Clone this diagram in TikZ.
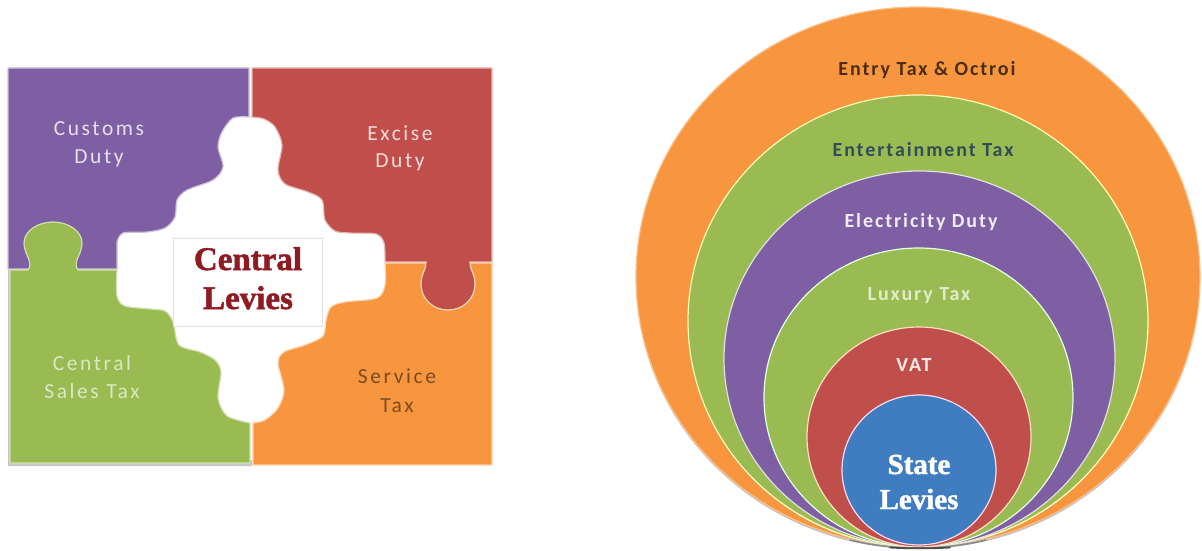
\documentclass[tikz,border=0pt]{standalone}
\usepackage{fontspec}
\setmainfont{Carlito}
\newfontfamily\lblfont[LetterSpace=12]{Carlito}
\newfontfamily\ringfont[LetterSpace=9.6]{Carlito Bold}
\newfontfamily\headfont[FakeBold=1.5]{Liberation Serif Bold}
\definecolor{cpurple}{HTML}{7F5FA3}
\definecolor{cred}{HTML}{C04F4B}
\definecolor{corange}{HTML}{F8963F}
\definecolor{cgreen}{HTML}{9ABB52}
\definecolor{cblue}{HTML}{3F7DC0}
\definecolor{chead}{HTML}{8E1B22}
\tikzset{
  piece/.style={line width=1.2pt,line join=round},
  ring/.style={line width=1.2pt},
  lbl/.style={anchor=base,inner sep=0pt,font=\fontsize{21.5}{21.5}\selectfont\lblfont},
  ringlbl/.style={anchor=base,inner sep=0pt,font=\fontsize{20}{20}\selectfont\ringfont},
  headlbl/.style={anchor=base,inner sep=0pt,font=\fontsize{33}{33}\selectfont\headfont},
}
\begin{document}
\begin{tikzpicture}[x=1pt,y=-1pt]
\useasboundingbox (0,0) rectangle (1202,551);
\fill[white] (0,0) rectangle (1202,551);
% purple piece
\draw[piece,fill=cpurple,draw=cpurple!40!white]
  (8,68) -- (249,68) -- (249,117)
  -- plot[smooth,tension=.5] coordinates {(249,117) (233,118) (222,132) (218,147) (223,167) (213,180) (187,190) (177,200) (175,217) (165,228) (147,232) (123,233) (117,242)}
  -- (117,269) -- (8,269) -- cycle;
% red piece
\draw[piece,fill=cred,draw=cred!40!white]
  (252,68) -- (492,68) -- (492,262) -- (385,262)
  -- plot[smooth,tension=.5] coordinates {(385,262) (384,243) (376,234) (350,233) (335,231) (325,220) (322,200) (308,192) (285,184) (278,170) (282,145) (275,127) (264,119) (251,117)}
  -- (252,117) -- cycle;
% orange piece
\draw[piece,fill=corange,draw=corange!40!white]
  (253,465) -- (492,465) -- (492,263) -- (385,263)
  -- plot[smooth,tension=.5] coordinates {(385,263) (385,285) (377,298) (345,302) (331,307) (326,320) (323,336) (305,345) (284,352) (278,363) (284,390) (278,408) (265,420) (253,423)}
  -- cycle;
% red tab sits over the orange piece
\draw[piece,fill=cred,draw=corange!35!white]
  (426,262) .. controls (426,270) and (421,274) .. (421,284)
  .. controls (421,299) and (433,310) .. (448,310)
  .. controls (463,310) and (475,299) .. (475,284)
  .. controls (475,274) and (470,270) .. (470,262);
\fill[cred] (427,258) rectangle (469,264);
% soft edge under the green piece
\fill[black!22] (8,270) -- (8,466) -- (252,466) -- (252,460) -- (12,460) -- (12,270) -- cycle;
% green piece
\draw[piece,fill=cgreen,draw=cgreen!45!white]
  (10,270) -- (28,270)
  .. controls (34,262) and (24,255) .. (24,243)
  .. controls (24,231) and (38,222) .. (53,222)
  .. controls (68,222) and (82,231) .. (82,243)
  .. controls (82,255) and (72,262) .. (78,270)
  -- (117,270)
  -- plot[smooth,tension=.5] coordinates {(117,270) (117,296) (125,306) (150,309) (165,311) (173,322) (179,345) (200,352) (215,360) (221,372) (218,398) (227,416) (250,423)}
  -- (250,463) -- (10,463) -- cycle;
\fill[cgreen] (30,267) rectangle (76,272);
% centre box
\node[draw=black!12,fill=white,line width=.8pt,minimum width=149pt,minimum height=88pt,inner sep=0pt] (box) at (247.5,282) {};
\node[headlbl,text=chead] (c1) at (248,270) {Central};
\node[headlbl,text=chead] (c2) at (248,309) {Levies};
\node[lbl,text=cpurple!20!white] (customs) at (99,135) {Customs};
\node[lbl,text=cpurple!20!white] (customs2) at (99,163) {Duty};
\node[lbl,text=cred!20!white] (excise) at (400,140) {Excise};
\node[lbl,text=cred!20!white] (excise2) at (400,167) {Duty};
\node[lbl,text=cgreen!35!white] (sales) at (92,370) {Central};
\node[lbl,text=cgreen!35!white] (sales2) at (92,398) {Sales Tax};
\node[lbl,text=corange!50!black] (service) at (397,383) {Service};
\node[lbl,text=corange!50!black] (service2) at (397,412) {Tax};
% --- nested circles
\fill[black!25] (918,279) ellipse [x radius=282,y radius=270];
\draw[ring,fill=corange,draw=corange!60!white] (918,277) ellipse [x radius=282,y radius=270];
\fill[black!25] (918,322) ellipse [x radius=230,y radius=226];
\draw[ring,fill=cgreen,draw=yellow!30!white] (918,321) ellipse [x radius=230,y radius=226];
\draw[ring,fill=cpurple,draw=white!88!black] (919.5,359) ellipse [x radius=195.5,y radius=188];
\draw[ring,fill=cgreen,draw=white!90!green] (918.5,397.5) ellipse [x radius=154.5,y radius=149.5];
\draw[ring,fill=cred,draw=orange!25!white] (919,437) ellipse [x radius=112,y radius=110];
\draw[ring,fill=cblue,draw=magenta!15!white] (919,470) ellipse [x radius=77,y radius=75];
\draw[line width=1.6pt,black!45] (849.8,540) arc[start angle=104,end angle=76,x radius=282,y radius=270];
\draw[line width=1.8pt,black!70,line cap=round] (890,547.5) .. controls (908,548.6) and (930,548.6) .. (950,547.5);
\node[ringlbl,text=corange!30!black] (r1) at (927,76) {Entry Tax \& Octroi};
\node[ringlbl,text=cgreen!25!black!60!cblue] (r2) at (923,156) {Entertainment Tax};
\node[ringlbl,text=cpurple!12!white] (r3) at (921,227) {Electricity Duty};
\node[ringlbl,text=cgreen!30!white] (r4) at (919,300) {Luxury Tax};
\node[ringlbl,text=cred!12!white] (r5) at (914,371) {VAT};
\node[headlbl,text=white,font=\fontsize{29}{29}\selectfont\headfont] (s1) at (919,474) {State};
\node[headlbl,text=white,font=\fontsize{29}{29}\selectfont\headfont] (s2) at (919,509) {Levies};
\end{tikzpicture}
\end{document}
